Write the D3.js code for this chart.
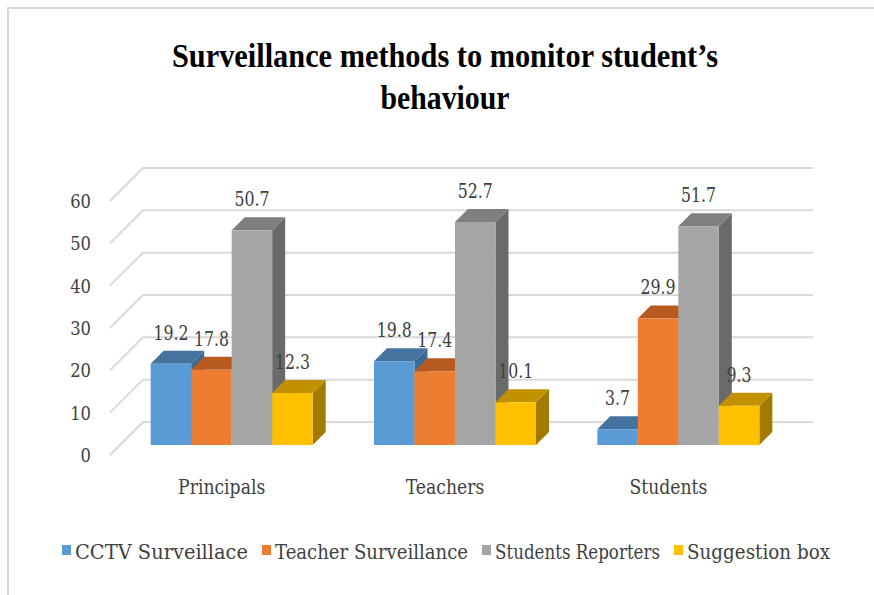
<!DOCTYPE html>
<html>
<head>
<meta charset="utf-8">
<script src="https://cdn.jsdelivr.net/npm/d3@7"></script>
<style>
  body { margin: 0; background: #fff; }
</style>
</head>
<body>
<div id="chart"></div>
<script>
const categories = ["Principals", "Teachers", "Students"];
const seriesNames = ["CCTV Surveillace", "Teacher Surveillance", "Students Reporters", "Suggestion box"];
const cctv = [19.2, 19.8, 3.7];
const teacherSurv = [17.8, 17.4, 29.9];
const reporters = [50.7, 52.7, 51.7];
const suggestion = [12.3, 10.1, 9.3];
const yTicks = [0, 10, 20, 30, 40, 50, 60];

const seriesValues = [cctv, teacherSurv, reporters, suggestion];
const colors = [
    {front: "#5B9BD5", top: "#44739f", side: "#3d6a93"},
    {front: "#ED7D31", top: "#b65a20", side: "#a9531d"},
    {front: "#A5A5A5", top: "#7f7f7f", side: "#6a6a6a"},
    {front: "#FFC000", top: "#c29100", side: "#a27a00"}
];

const width = 874, height = 595;
const depth = 33;               // depth of the floor / side wall
const zFront = 10, zBack = 23;  // bar depth inside the floor
const serif = '"DejaVu Serif", serif';
const titleFont = '"Liberation Serif", serif';

const svg = d3.select('#chart')
    .append('svg')
        .attr('width', width)
        .attr('height', height);

// squeeze text horizontally like the original
function squeeze(sel, k) {
    sel.each(function() {
        const w = this.getComputedTextLength();
        d3.select(this)
            .attr('textLength', w * k)
            .attr('lengthAdjust', 'spacingAndGlyphs');
    });
}

// outer border
svg.append('path')
    .attr('d', `M8,${height} L8,8 L${width},8`)
    .attr('fill', 'none')
    .attr('stroke', '#d9d9d9')
    .attr('stroke-width', 2);

const yScale = d3.scaleLinear()
    .domain([0, 60])
    .range([455, 201]);

const xScale = d3.scaleBand()
    .domain(categories)
    .range([110, 780]);

const groupWidth = 162;
const xInner = d3.scaleBand()
    .domain(d3.range(seriesNames.length))
    .range([0, groupWidth]);

// oblique projection: front plane x, value, depth z
const P = (x, v, z) => [x + z, yScale(v) - z];
const poly = pts => 'M' + pts.map(p => p.join(',')).join('L') + 'Z';

// gridlines: side wall diagonals + back wall lines
const grid = svg.append('g');
yTicks.forEach(t => {
    const a = P(110, t, 0), b = P(110, t, depth), c = P(780, t, depth);
    grid.append('path')
        .attr('d', `M${a}L${b}L${c}`)
        .attr('fill', 'none')
        .attr('stroke', '#d9d9d9')
        .attr('stroke-width', 2);
});

// y tick labels
svg.append('g').selectAll('text')
    .data(yTicks)
    .join('text')
        .attr('x', 91)
        .attr('y', d => yScale(d) + 7)
        .attr('text-anchor', 'end')
        .attr('font-family', serif)
        .style('font-size', '19px')
        .attr('fill', '#404040')
        .text(d => d)
        .call(squeeze, 0.86);

// bars, painted left to right
const bars = [];
categories.forEach((cat, ci) => {
    const gx = xScale(cat) + (xScale.bandwidth() - groupWidth) / 2;
    seriesValues.forEach((vals, si) => {
        bars.push({x0: gx + xInner(si), x1: gx + xInner(si) + xInner.bandwidth(), v: vals[ci], si});
    });
});

const barG = svg.append('g');
bars.forEach(d => {
    const g = barG.append('g');
    const c = colors[d.si];
    g.append('path')
        .attr('d', poly([P(d.x1, 0, zFront), P(d.x1, 0, zBack), P(d.x1, d.v, zBack), P(d.x1, d.v, zFront)]))
        .attr('fill', c.side);
    g.append('path')
        .attr('d', poly([P(d.x0, d.v, zFront), P(d.x1, d.v, zFront), P(d.x1, d.v, zBack), P(d.x0, d.v, zBack)]))
        .attr('fill', c.top);
    g.append('path')
        .attr('d', poly([P(d.x0, 0, zFront), P(d.x1, 0, zFront), P(d.x1, d.v, zFront), P(d.x0, d.v, zFront)]))
        .attr('fill', c.front);
});

// value labels
svg.append('g').selectAll('text')
    .data(bars)
    .join('text')
        .attr('x', d => (d.x0 + d.x1) / 2 + zFront)
        .attr('y', d => yScale(d.v) - zBack - 11)
        .attr('text-anchor', 'middle')
        .attr('font-family', serif)
        .style('font-size', '21px')
        .attr('fill', '#404040')
        .text(d => d.v)
        .call(squeeze, 0.75);

// category labels
svg.append('g').selectAll('text')
    .data(categories)
    .join('text')
        .attr('x', d => xScale(d) + xScale.bandwidth() / 2)
        .attr('y', 494)
        .attr('text-anchor', 'middle')
        .attr('font-family', serif)
        .style('font-size', '20px')
        .attr('fill', '#404040')
        .text(d => d)
        .call(squeeze, 0.86);

// title
const titleLines = [
    {text: "Surveillance methods to monitor student\u2019s", y: 67, w: 546},
    {text: "behaviour", y: 109, w: 129}
];
svg.append('g').selectAll('text')
    .data(titleLines)
    .join('text')
        .attr('x', 445)
        .attr('y', d => d.y)
        .attr('text-anchor', 'middle')
        .attr('textLength', d => d.w)
        .attr('lengthAdjust', 'spacingAndGlyphs')
        .attr('font-family', titleFont)
        .style('font-size', '34px')
        .style('font-weight', 'bold')
        .attr('fill', '#000')
        .text(d => d.text);

// legend
const legendTextW = [173, 193, 165, 143];
const legend = svg.append('g');
let lx = 0;
seriesNames.forEach((name, i) => {
    const item = legend.append('g').attr('transform', `translate(${lx},0)`);
    item.append('rect')
        .attr('x', 0).attr('y', -14)
        .attr('width', 9).attr('height', 10)
        .attr('fill', colors[i].front);
    item.append('text')
        .attr('x', 13).attr('y', 0)
        .attr('font-family', serif)
        .style('font-size', '20px')
        .attr('fill', '#404040')
        .attr('textLength', legendTextW[i])
        .attr('lengthAdjust', 'spacingAndGlyphs')
        .text(name);
    lx += 13 + legendTextW[i] + 14;
});
legend.attr('transform', `translate(62,559)`);
</script>
</body>
</html>
